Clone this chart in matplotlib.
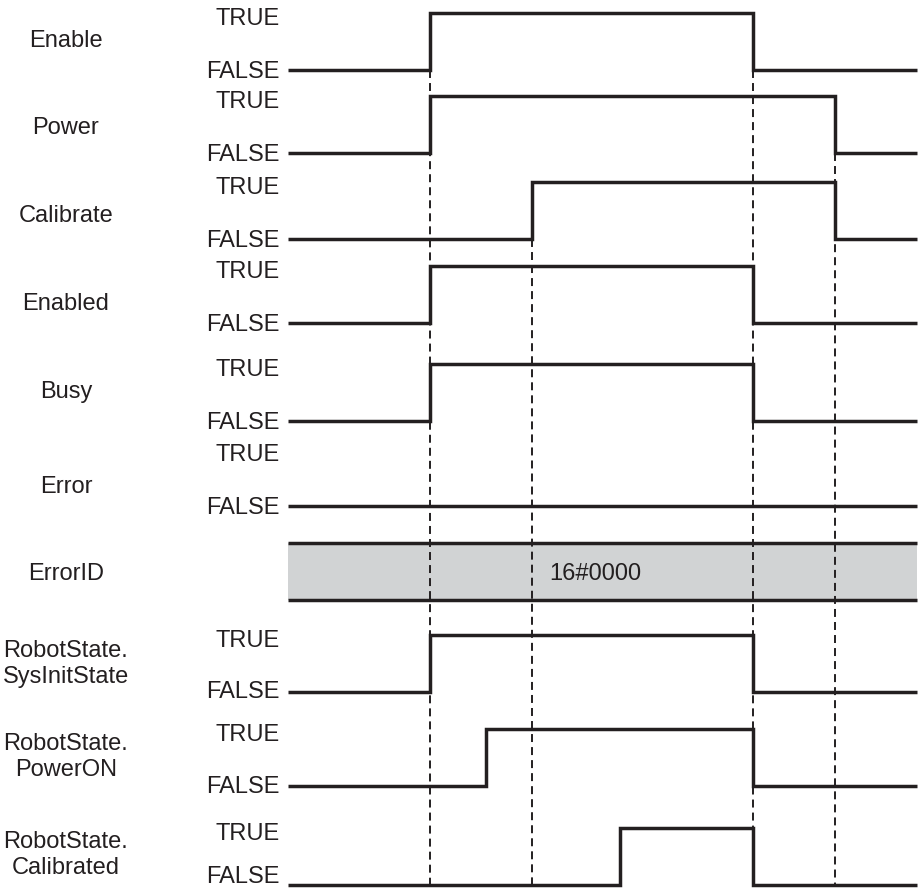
import matplotlib
matplotlib.use("Agg")
import matplotlib.pyplot as plt

#-----------------DATA---------------------#
# time axis in arbitrary units (0 = start of trace, 100 = end)
T_START, T_END = 0.0, 100.0
t_enable_on = 22.6
t_poweron = 31.5
t_calibrate = 38.8
t_calibrated = 52.8
t_disable = 73.9
t_power_off = 87.0

signal_names = ["Enable", "Power", "Calibrate", "Enabled", "Busy", "Error"]
signal_edges = [
    [t_enable_on, t_disable],      # Enable
    [t_enable_on, t_power_off],    # Power
    [t_calibrate, t_power_off],    # Calibrate
    [t_enable_on, t_disable],      # Enabled
    [t_enable_on, t_disable],      # Busy
    [],                            # Error
]

state_names = ["RobotState.\nSysInitState", "RobotState.\nPowerON", "RobotState.\nCalibrated"]
state_edges = [
    [t_enable_on, t_disable],
    [t_poweron, t_disable],
    [t_calibrated, t_disable],
]

errorid_name = "ErrorID"
errorid_value = "16#0000"

# dashed guide lines: time and the signal they drop from
guide_times = [t_enable_on, t_calibrate, t_disable, t_power_off]
guide_from = ["Enable", "Calibrate", "Enable", "Power"]

#-----------------LAYOUT---------------------#
INK = "#231f20"
GREY = "#d1d3d4"
PX_PER_T = 6.29        # pixels per time unit
X0_PX = 288            # pixel where the trace starts
lane_low = [70, 153, 239, 323, 421, 506]   # FALSE level of each lane (pixels from top)
band = (543, 600)                          # ErrorID band
state_low = [692, 786, 885]
HIGH = 57              # height of TRUE above FALSE
name_dy = [-29, -25, -23, -19, -29, -19]
state_dy = [-28, -29, -30]
false_dy = [2, 2, 2, 2, 2, 2, 0, 1, -8]   # last label sits above the line (page edge)


def px(x):
    return (x - X0_PX) / PX_PER_T


plt.rcParams["font.family"] = ["Liberation Sans", "DejaVu Sans"]
fig = plt.figure(figsize=(9.21, 8.92), dpi=100)
ax = fig.add_axes([0, 0, 1, 1])
ax.set_xlim(px(0), px(921))
ax.set_ylim(892, 0)
ax.axis("off")

FS = 17
line_kw = dict(color=INK, lw=2.5, solid_joinstyle="miter", solid_capstyle="butt", zorder=3)


def draw_signal(low, edges):
    xs = [T_START]
    ys = [low]
    level = 0
    for t in edges:
        level = 1 - level
        xs.append(t)
        ys.append(low - HIGH * level)
    xs.append(T_END)
    ys.append(ys[-1])
    ax.step(xs, ys, where="post", **line_kw)


def draw_levels(low, fdy):
    ax.text(px(280), low - 51, "TRUE", ha="right", va="center", fontsize=FS, color=INK)
    ax.text(px(280), low + fdy, "FALSE", ha="right", va="center", fontsize=FS, color=INK)


for i, (name, edges, low, dy) in enumerate(zip(signal_names, signal_edges, lane_low, name_dy)):
    draw_signal(low, edges)
    draw_levels(low, false_dy[i])
    ax.text(px(66), low + dy, name, ha="center", va="center", fontsize=FS, color=INK)

# ErrorID bus
ax.fill_between([T_START, T_END], band[0], band[1], color=GREY, lw=0, zorder=1)
for yb in band:
    ax.plot([T_START, T_END], [yb, yb], **line_kw)
ax.text(px(595), (band[0] + band[1]) / 2 + 2, errorid_value, ha="center", va="center",
        fontsize=FS, color=INK, zorder=4)
ax.text(px(66), (band[0] + band[1]) / 2 + 2, errorid_name, ha="center", va="center",
        fontsize=FS, color=INK)

for i, (name, edges, low, dy) in enumerate(zip(state_names, state_edges, state_low, state_dy)):
    draw_signal(low, edges)
    draw_levels(low, false_dy[len(signal_names) + i])
    ax.text(px(66), low + dy, name, ha="center", va="center", fontsize=FS, color=INK,
            linespacing=1.25)

# dashed guides
for t, src in zip(guide_times, guide_from):
    top = lane_low[signal_names.index(src)]
    ax.vlines(t, top, state_low[-1], colors=INK, lw=1.4, linestyles=[(0, (4.1, 2.6))], zorder=2)

fig.savefig("out.png", dpi=100)
